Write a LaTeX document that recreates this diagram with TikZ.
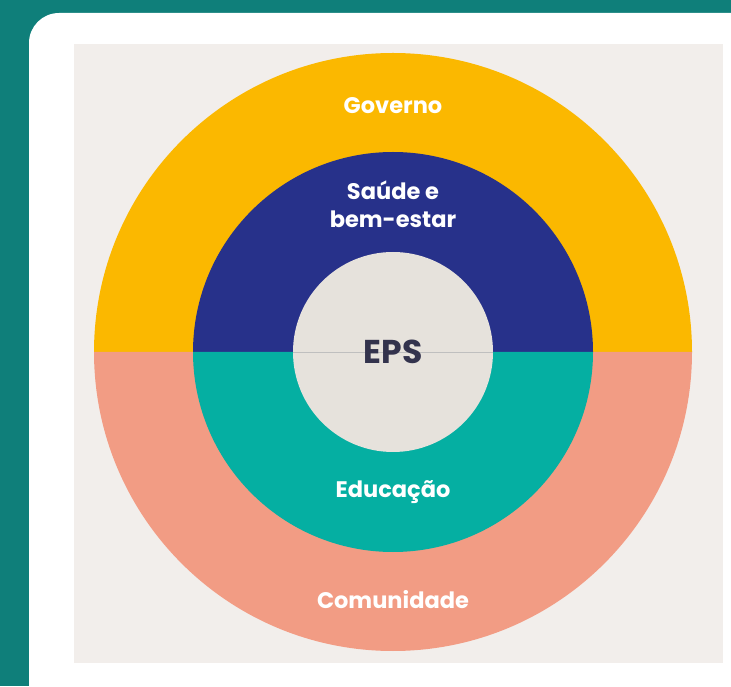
\documentclass[tikz,border=0pt]{standalone}
\usepackage{fontspec}
\setmainfont{Poppins}
\usetikzlibrary{calc}
\definecolor{frameteal}{HTML}{0F7F7A}
\definecolor{paper}{HTML}{F2EEEB}
\definecolor{govyellow}{HTML}{FBB800}
\definecolor{saudeblue}{HTML}{27318A}
\definecolor{eduteal}{HTML}{05AFA2}
\definecolor{comsalmon}{HTML}{F29C84}
\definecolor{epsgray}{HTML}{E6E2DC}
\definecolor{epstext}{HTML}{33334D}
\tikzset{
  ringlabel/.style={text=white, font=\bfseries\fontsize{22.5}{28}\selectfont, align=center},
  corelabel/.style={text=epstext, font=\bfseries\fontsize{33}{36}\selectfont}
}
\begin{document}
\begin{tikzpicture}[x=1pt,y=1pt]
  \useasboundingbox (0,0) rectangle (731,686);
  \fill[frameteal] (0,0) rectangle (731,686);
  \fill[white, rounded corners=30pt] (29,-40) rectangle (780,673);
  \fill[paper] (74,23) rectangle (723,642);
  \coordinate (c) at (393,334);
  % rings, upper and lower halves
  \fill[govyellow] ($(c)+(-299,0)$) arc[start angle=180, end angle=0, radius=299] -- cycle;
  \fill[comsalmon] ($(c)+(-299,0)$) arc[start angle=180, end angle=360, radius=299] -- cycle;
  \fill[saudeblue] ($(c)+(-200,0)$) arc[start angle=180, end angle=0, radius=200] -- cycle;
  \fill[eduteal] ($(c)+(-200,0)$) arc[start angle=180, end angle=360, radius=200] -- cycle;
  \fill[epsgray] (c) circle[radius=100];
  \draw[black!25, line width=0.6pt] ($(c)+(-100,0)$) -- ($(c)+(100,0)$);
  % labels
  \node[ringlabel] (gov) at (393,580) {Governo};
  \node[ringlabel] (saude) at (393,482) {Saúde e\\bem-estar};
  \node[corelabel] (eps) at (c) {EPS};
  \node[ringlabel] (edu) at (393,194) {Educação};
  \node[ringlabel] (com) at (393,86) {Comunidade};
\end{tikzpicture}
\end{document}
